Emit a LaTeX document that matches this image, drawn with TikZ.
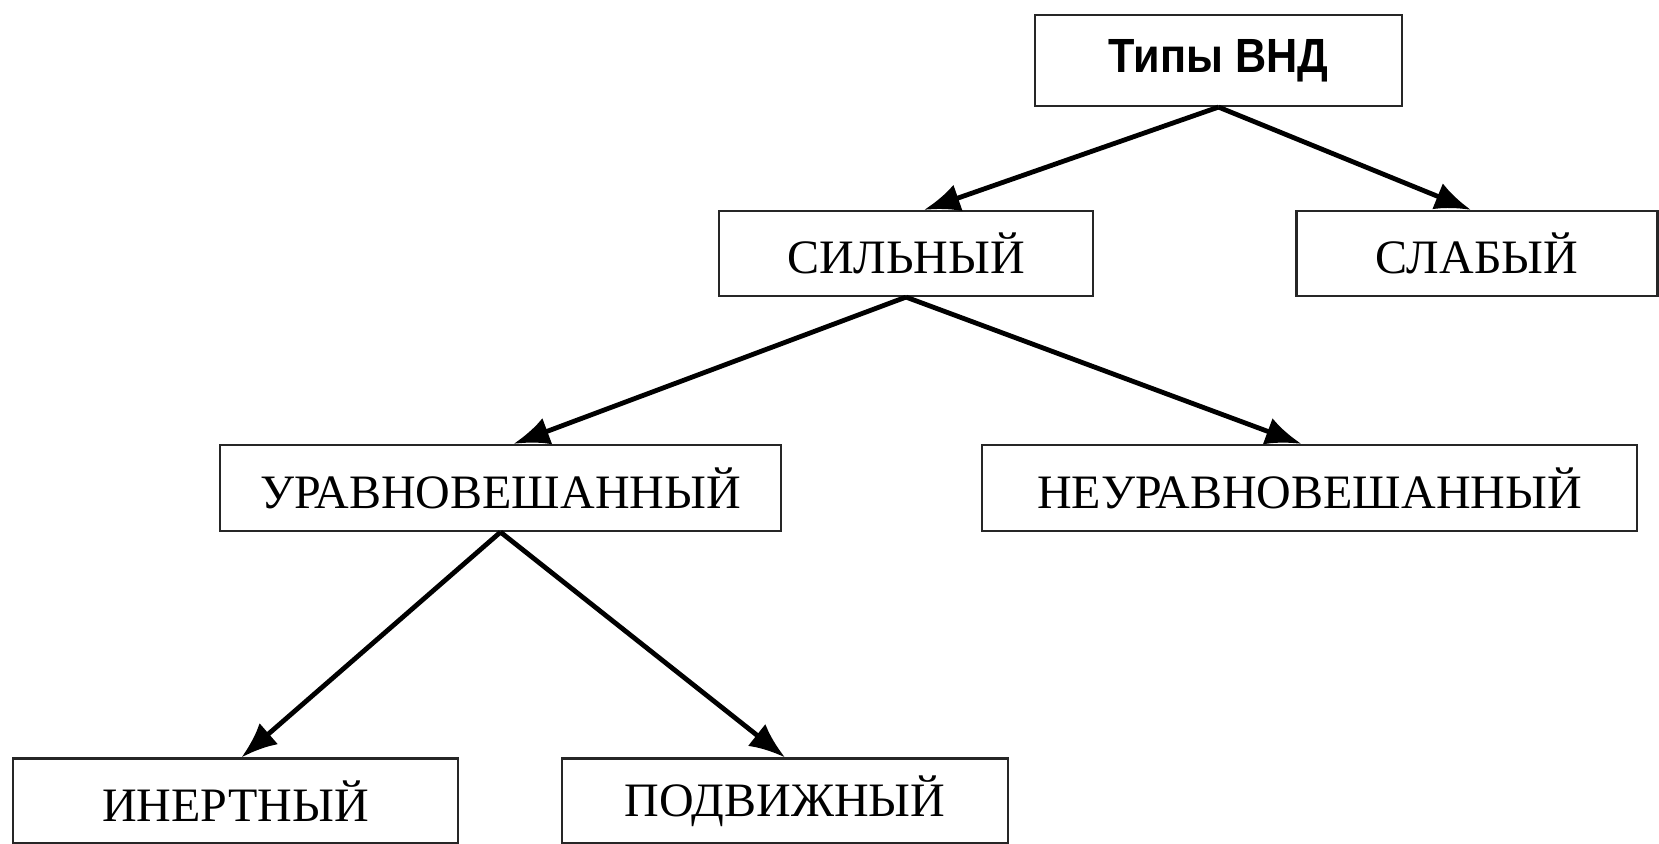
\documentclass[tikz,border=0pt]{standalone}
\usepackage{fontspec}
\usepackage{graphicx}
\setmainfont{Liberation Serif}
\newfontfamily\titulofont{Liberation Sans}
\usetikzlibrary{arrows.meta}
\tikzset{
    caja/.style={draw=black!85, line width=1.1pt, fill=white, inner sep=0pt,
        minimum height=42.5pt, font=\fontsize{24}{28}\selectfont},
    flecha/.style={line width=2.4pt, -{Latex[length=18pt, width=14pt]}}
}

\begin{document}
\begin{tikzpicture}[x=0.5pt, y=-0.5pt]

\useasboundingbox (0, 0) rectangle (1659, 844);

% Cajas de cada nivel.
\node[caja, minimum width=183.5pt, minimum height=45.5pt,
    font=\fontsize{24}{28}\selectfont\titulofont\bfseries] (T) at (1218.5, 60.5)
    {\scalebox{0.9}[1]{Типы ВНД}};

\node[caja, minimum width=187pt] (S) at (906, 253.5) {СИЛЬНЫЙ};
\node[caja, minimum width=180.5pt] (W) at (1477, 253.5) {СЛАБЫЙ};

\node[caja, minimum width=280.5pt, minimum height=43pt] (U) at (500.5, 488) {УРАВНОВЕШАННЫЙ};
\node[caja, minimum width=327.5pt, minimum height=43pt] (N) at (1309.5, 488) {НЕУРАВНОВЕШАННЫЙ};

\node[caja, minimum width=222.5pt] (I) at (235.5, 801) {ИНЕРТНЫЙ};
\node[caja, minimum width=223pt] (P) at (785, 801) {ПОДВИЖНЫЙ};

% Flechas entre las cajas.
\draw[flecha] (T.south) -- ([xshift=9pt]S.north);
\draw[flecha] (T.south) -- ([xshift=-3pt]W.north);
\draw[flecha] (S.south) -- ([xshift=6.5pt]U.north);
\draw[flecha] (S.south) -- ([xshift=-4pt]N.north);
\draw[flecha] (U.south) -- ([xshift=3pt]I.north);
\draw[flecha] (U.south) -- (P.north);

\end{tikzpicture}
\end{document}
